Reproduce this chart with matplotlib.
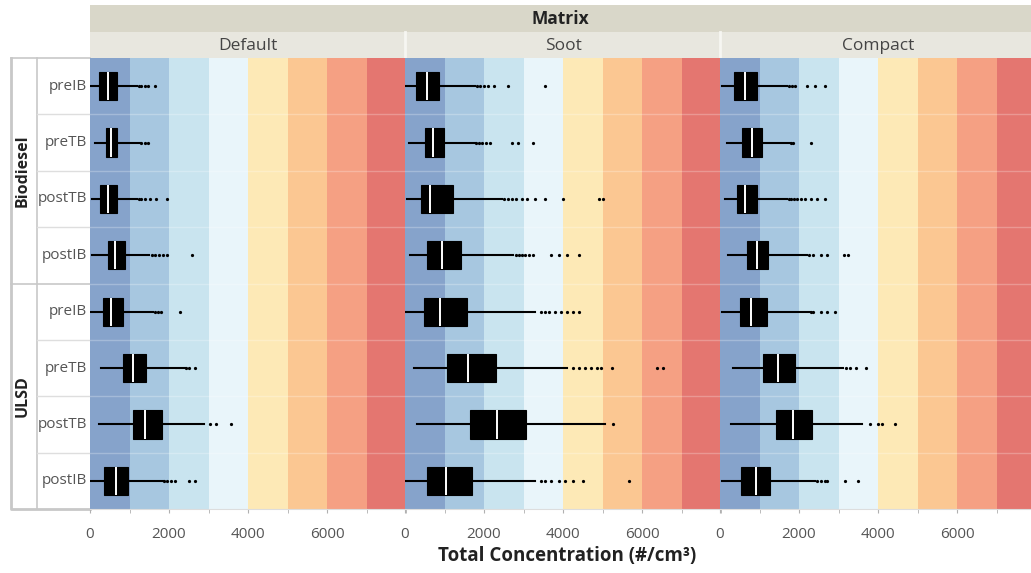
import numpy as np
import matplotlib.pyplot as plt
from matplotlib.patches import Rectangle
from matplotlib.ticker import MultipleLocator

plt.rcParams['font.family'] = ['Open Sans', 'DejaVu Sans']

matrices = ['Default', 'Soot', 'Compact']
fuels = ['Biodiesel', 'ULSD']
stages = ['preIB', 'preTB', 'postTB', 'postIB']

# (whisker low, Q1, median, Q3, whisker high) for each fuel/stage row, top to bottom
default_stats = [(0, 230, 455, 680, 1190), (130, 400, 530, 680, 1270),
                 (50, 250, 455, 680, 1190), (50, 450, 630, 890, 1500),
                 (0, 330, 530, 830, 1600), (280, 830, 1090, 1410, 2400),
                 (230, 1090, 1390, 1820, 2890), (25, 350, 660, 960, 1850)]
default_out = [[1230, 1300, 1380, 1480, 1650], [1300, 1380, 1480],
               [1230, 1300, 1400, 1520, 1680, 1950], [1560, 1650, 1750, 1850, 1950, 2580],
               [1650, 1720, 1800, 2280], [2420, 2500, 2650],
               [3050, 3200, 3560], [1880, 1950, 2050, 2150, 2500, 2650]]

soot_stats = [(0, 280, 560, 860, 1770), (100, 500, 710, 990, 1770),
              (50, 400, 630, 1220, 2460), (130, 550, 940, 1430, 2740),
              (0, 480, 890, 1570, 3290), (230, 1060, 1600, 2300, 4100),
              (300, 1650, 2330, 3060, 5060), (0, 550, 1040, 1700, 3290)]
soot_out = [[1820, 1900, 2000, 2100, 2250, 2600, 3540],
            [1800, 1880, 1950, 2050, 2150, 2700, 2850, 3250],
            [2500, 2600, 2700, 2800, 2950, 3100, 3300, 3550, 4000, 4900, 5000],
            [2800, 2880, 2950, 3050, 3150, 3250, 3700, 3900, 4100, 4400],
            [3450, 3550, 3650, 3800, 3950, 4100, 4250, 4400],
            [4250, 4400, 4550, 4700, 4850, 4950, 5240, 6380, 6530],
            [5270],
            [3450, 3550, 3700, 3900, 4050, 4250, 4500, 5670]]

compact_stats = [(50, 350, 630, 940, 1700), (180, 560, 810, 1060, 1770),
                 (130, 430, 630, 940, 1700), (200, 680, 940, 1220, 2200),
                 (50, 510, 790, 1190, 2280), (330, 1090, 1470, 1900, 3110),
                 (280, 1420, 1850, 2330, 3590), (50, 530, 910, 1270, 2400)]
compact_out = [[1750, 1820, 1900, 2200, 2400, 2650], [1800, 1850, 2300],
               [1750, 1800, 1870, 1950, 2050, 2150, 2300, 2450, 2650],
               [2250, 2350, 2550, 2700, 3150, 3250],
               [2300, 2350, 2550, 2700, 2900], [3200, 3300, 3450, 3700],
               [3800, 4000, 4100, 4430], [2450, 2550, 2650, 2720, 3160, 3490]]

band_edges = [0, 1000, 2000, 3000, 4000, 5000, 6000, 7000, 8000]
band_colors = ['#86a3cb', '#a7c7e0', '#c9e4ef', '#e9f5fa',
               '#fde9b6', '#fbc792', '#f5a083', '#e47670']

W, H = 1031, 573
fig = plt.figure(figsize=(W / 100, H / 100), dpi=100)

def px(x0, y0, x1, y1):
    return [x0 / W, 1 - y1 / H, (x1 - x0) / W, (y1 - y0) / H]

# background layer in pixel units for headers and the row label frame
bg = fig.add_axes([0, 0, 1, 1])
bg.set_xlim(0, W)
bg.set_ylim(H, 0)
bg.axis('off')

top, bottom = 58, 509
left0, pw = 90, 316
bg.add_patch(Rectangle((left0, 5), W - left0, 27, color='#d9d7c9', lw=0))
bg.add_patch(Rectangle((left0, 32), W - left0, 26, color='#e8e7df', lw=0))
bg.text((left0 + W) / 2, 19, 'Matrix', ha='center', va='center',
        fontsize=12.5, fontweight='bold', color='#222')

rowh = (bottom - top) / 8
lc = '#c8c8c8'
bg.plot([11, 11, 90], [top, bottom, bottom], color=lc, lw=2)
bg.plot([11, 90], [top, top], color=lc, lw=1.2)
bg.plot([37, 37], [top, bottom], color=lc, lw=1.2)
bg.plot([11, 90], [top + 4 * rowh, top + 4 * rowh], color=lc, lw=1.2)
for i in range(8):
    yc = top + (i + 0.5) * rowh
    bg.text(87, yc, stages[i % 4], ha='right', va='center', fontsize=11, color='#555')
    if i > 0 and i != 4:
        bg.plot([37, 90], [top + i * rowh] * 2, color='#dedede', lw=1)
for g, name in enumerate(fuels):
    bg.text(23, top + (2 + 4 * g) * rowh, name, rotation=90, ha='center', va='center',
            fontsize=11.5, fontweight='bold', color='#222')

all_stats = [default_stats, soot_stats, compact_stats]
all_out = [default_out, soot_out, compact_out]

for k, name in enumerate(matrices):
    x0 = left0 + k * (pw - 1)
    if k > 0:
        bg.plot([x0, x0], [32, 58], color='#f6f6f2', lw=2)
    bg.text(x0 + pw / 2, 46, name, ha='center', va='center', fontsize=12.5, color='#444')

    ax = fig.add_axes(px(x0, top, x0 + pw, bottom))
    for c, (a, b) in zip(band_colors, zip(band_edges[:-1], band_edges[1:])):
        ax.axvspan(a, b, color=c, lw=0, zorder=0)
    for i in range(1, 8):
        ax.axhline(i - 0.5, color='white', alpha=0.25, lw=1, zorder=1)

    stats = []
    for (lo, q1, med, q3, hi), out in zip(all_stats[k], all_out[k]):
        stats.append(dict(whislo=lo, q1=q1, med=med, q3=q3, whishi=hi, fliers=out))
    ax.bxp(stats, positions=np.arange(8), orientation='horizontal', widths=0.5,
           patch_artist=True, showcaps=False,
           boxprops=dict(facecolor='black', edgecolor='black', lw=0.8),
           medianprops=dict(color='white', lw=1.4),
           whiskerprops=dict(color='black', lw=1.5),
           flierprops=dict(marker='o', markersize=1.3, markerfacecolor='black',
                           markeredgecolor='black'))

    ax.set_xlim(0, 8000)
    ax.set_ylim(7.5, -0.5)
    ax.set_yticks([])
    ax.xaxis.set_minor_locator(MultipleLocator(1000))
    ax.set_xticks([0, 2000, 4000, 6000])
    ax.set_xticklabels(['0', '2000', '4000', '6000'])
    ax.tick_params(axis='x', which='both', length=3, color='#b0b0b0',
                   labelsize=11, labelcolor='#555', pad=10)
    for s in ['top', 'right', 'left']:
        ax.spines[s].set_visible(False)
    ax.spines['bottom'].set_color('#dddddd')
    ax.set_zorder(2)

fig.text(567 / W, 1 - 556 / H, 'Total Concentration (#/cm³)', ha='center', va='center',
         fontsize=13.5, fontweight='bold', color='#222')

fig.savefig('out.png', dpi=100)
